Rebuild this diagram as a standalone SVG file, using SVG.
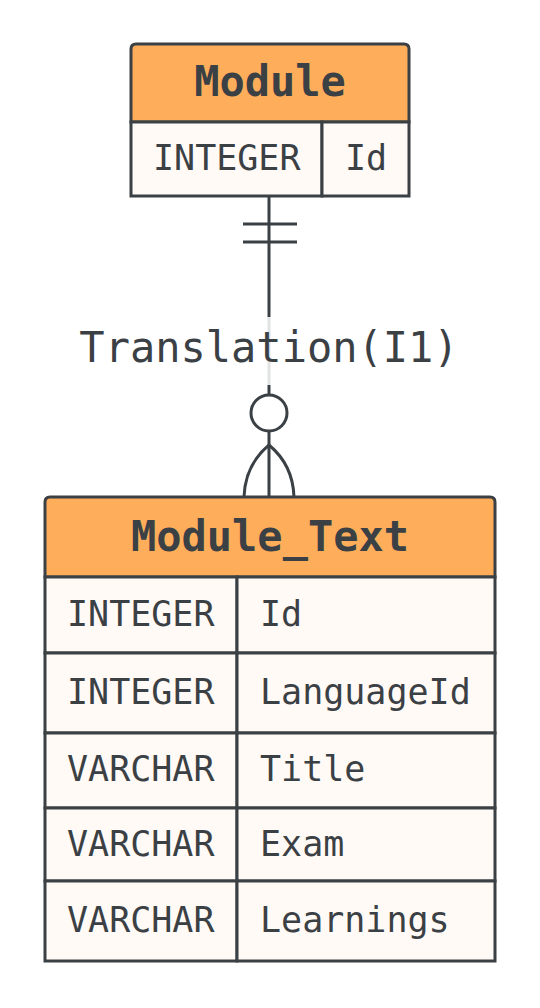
<svg xmlns="http://www.w3.org/2000/svg" width="540" height="1008" viewBox="0 0 540 1008">
<style>
.hdr{fill:#feae5b;stroke:#3b4045;stroke-width:3}
.row{fill:#fffaf6;stroke:#3b4045;stroke-width:3}
.ln{stroke:#3b4045;stroke-width:3;fill:none}
.t{font-family:"DejaVu Sans Mono","Liberation Mono",monospace;fill:#3b4045;dominant-baseline:central}
.h{font-size:42px;font-weight:bold;text-anchor:middle}
.r{font-size:35px}
.lbl{font-size:42px;text-anchor:middle}
</style>
<rect width="540" height="1008" fill="#ffffff"/>
<g id="connectors">
<line class="ln" x1="269" y1="196" x2="269" y2="395"/>
<line class="ln" x1="243" y1="224" x2="297" y2="224"/>
<line class="ln" x1="243" y1="242" x2="297" y2="242"/>
<rect x="60" y="317" width="418" height="68" fill="#ffffff" fill-opacity="0.85"/>
<text class="t lbl" x="269" y="347">Translation(I1)</text>
<circle class="ln" cx="269" cy="413" r="18" fill="#ffffff"/>
<line class="ln" x1="269" y1="431" x2="269" y2="497"/>
<path class="ln" d="M269,445 Q245,465 244,497"/>
<path class="ln" d="M269,445 Q293,465 294,497"/>
</g>
<g id="Module">
<path class="hdr" d="M131,122 V49 Q131,44 136,44 H404 Q409,44 409,49 V122 Z"/>
<rect class="row" x="131" y="122" width="191" height="74"/>
<rect class="row" x="322" y="122" width="87" height="74"/>
<text class="t h" x="270" y="81">Module</text>
<text class="t r" x="153" y="158">INTEGER</text>
<text class="t r" x="345" y="158">Id</text>
</g>
<g id="Module_Text">
<path class="hdr" d="M45,577 V502 Q45,497 50,497 H490 Q495,497 495,502 V577 Z"/>
<rect class="row" x="45" y="577" width="192" height="76"/>
<rect class="row" x="237" y="577" width="258" height="76"/>
<rect class="row" x="45" y="653" width="192" height="80"/>
<rect class="row" x="237" y="653" width="258" height="80"/>
<rect class="row" x="45" y="733" width="192" height="75"/>
<rect class="row" x="237" y="733" width="258" height="75"/>
<rect class="row" x="45" y="808" width="192" height="73"/>
<rect class="row" x="237" y="808" width="258" height="73"/>
<rect class="row" x="45" y="881" width="192" height="80"/>
<rect class="row" x="237" y="881" width="258" height="80"/>
<text class="t h" x="270" y="536">Module_Text</text>
<text class="t r" x="67" y="614">INTEGER</text>
<text class="t r" x="260" y="614">Id</text>
<text class="t r" x="67" y="692">INTEGER</text>
<text class="t r" x="260" y="692">LanguageId</text>
<text class="t r" x="67" y="769">VARCHAR</text>
<text class="t r" x="260" y="769">Title</text>
<text class="t r" x="67" y="844">VARCHAR</text>
<text class="t r" x="260" y="844">Exam</text>
<text class="t r" x="67" y="920">VARCHAR</text>
<text class="t r" x="260" y="920">Learnings</text>
</g>
</svg>
